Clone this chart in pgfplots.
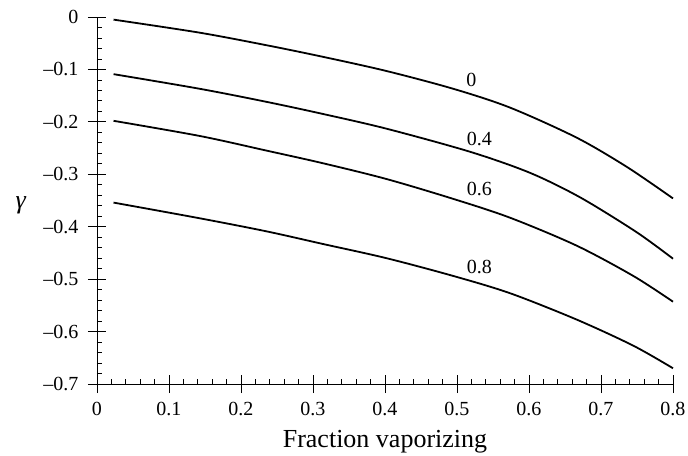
\documentclass[border=0pt]{standalone}
\usepackage{pgfplots}
\pgfplotsset{compat=1.18}
\usepackage{fontspec}
\setmainfont{Liberation Serif}
\begin{document}
\begin{tikzpicture}
\useasboundingbox (-97bp,-72bp) rectangle (591bp,384bp);
\begin{axis}[
  at={(0,0)}, anchor=south west,
  scale only axis, width=576bp, height=367bp,
  xmin=0, xmax=0.8, ymin=-0.7, ymax=0,
  axis lines*=left,
  axis line style={line width=0.9bp},
  xtick={0,0.1,0.2,0.3,0.4,0.5,0.6,0.7,0.8},
  xticklabels={0,0.1,0.2,0.3,0.4,0.5,0.6,0.7,0.8},
  ytick={0,-0.1,-0.2,-0.3,-0.4,-0.5,-0.6,-0.7},
  yticklabels={0,–0.1,–0.2,–0.3,–0.4,–0.5,–0.6,–0.7},
  minor x tick num=4, minor y tick num=4,
  tick align=center,
  major tick length=18bp, minor tick length=5bp,
  minor x tick style={yshift=2.5bp},
  minor y tick style={xshift=2.5bp},
  tick style={line width=0.8bp, black},
  ticklabel style={font=\fontsize{20bp}{24bp}\selectfont},
  xticklabel style={yshift=-6bp},
  yticklabel style={xshift=-6bp},
  xlabel={Fraction vaporizing},
  xlabel style={font=\fontsize{26bp}{30bp}\selectfont, at={(axis description cs:0.5,0)}, anchor=base, yshift=-63bp},
  ylabel={\textit{γ}},
  ylabel style={font=\fontsize{26bp}{30bp}\selectfont, rotate=-90, at={(axis description cs:0,0.488)}, anchor=center, xshift=-76bp},
  every axis plot post/.append style={black, line width=1.8bp, smooth, mark=none},
  clip=false,
]
\addplot coordinates {(0.023,-0.005) (0.143,-0.030) (0.236,-0.054) (0.314,-0.076) (0.402,-0.103) (0.495,-0.137) (0.574,-0.173) (0.666,-0.230) (0.736,-0.286) (0.8,-0.346)};
\addplot coordinates {(0.023,-0.109) (0.143,-0.137) (0.236,-0.162) (0.314,-0.185) (0.402,-0.213) (0.518,-0.257) (0.601,-0.297) (0.671,-0.344) (0.749,-0.410) (0.8,-0.461)};
\addplot coordinates {(0.023,-0.198) (0.143,-0.227) (0.236,-0.255) (0.314,-0.279) (0.402,-0.309) (0.495,-0.347) (0.574,-0.383) (0.666,-0.436) (0.745,-0.494) (0.8,-0.543)};
\addplot coordinates {(0.023,-0.354) (0.143,-0.384) (0.236,-0.409) (0.314,-0.433) (0.402,-0.460) (0.495,-0.494) (0.574,-0.527) (0.666,-0.577) (0.745,-0.627) (0.8,-0.670)};
\node[font=\fontsize{20bp}{24bp}\selectfont] at (axis cs:0.520,-0.120) {0};
\node[font=\fontsize{20bp}{24bp}\selectfont] at (axis cs:0.531,-0.232) {0.4};
\node[font=\fontsize{20bp}{24bp}\selectfont] at (axis cs:0.531,-0.328) {0.6};
\node[font=\fontsize{20bp}{24bp}\selectfont] at (axis cs:0.531,-0.476) {0.8};
\end{axis}
\end{tikzpicture}
\end{document}
